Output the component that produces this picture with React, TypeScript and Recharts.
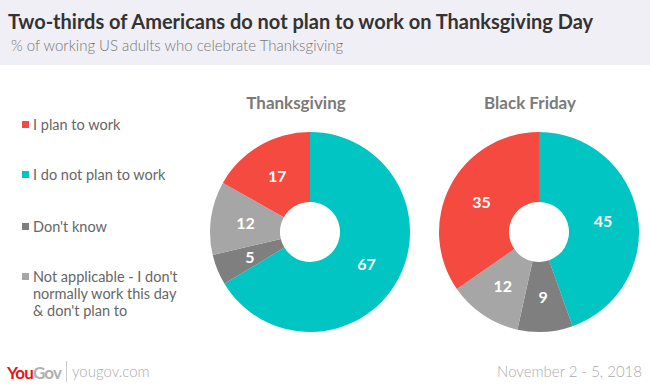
import { PieChart, Pie, Cell } from 'recharts';

// order in the pies (clockwise from 12 o'clock)
const categories = ['I do not plan to work', "Don't know", "Not applicable - I don't normally work this day & don't plan to", 'I plan to work'];
const thanksgivingValues = [67, 5, 12, 17];
const blackFridayValues = [45, 9, 12, 35];
const sliceColors = ['#00c5c2', '#7f7f7f', '#a6a6a6', '#f44a40'];

// legend order (top to bottom)
const legendItems = [
  { label: ['I plan to work'], color: '#f44a40', y: 116 },
  { label: ['I do not plan to work'], color: '#00c5c2', y: 166 },
  { label: ["Don't know"], color: '#7f7f7f', y: 218 },
  { label: ["Not applicable - I don't", 'normally work this day', "& don't plan to"], color: '#a6a6a6', y: 268 },
];

const FONT = 'Lato, "Open Sans", sans-serif';
const RADIAN = Math.PI / 180;

const toRows = (values: number[]) => categories.map((name, i) => ({ name, value: values[i] }));

const renderLabel = (props: any) => {
  const { cx, cy, midAngle, innerRadius, outerRadius, value } = props;
  const r = (innerRadius + outerRadius) / 2;
  const x = cx + r * Math.cos(-midAngle * RADIAN);
  const y = cy + r * Math.sin(-midAngle * RADIAN);
  return (
    <text x={x} y={y} fill="#fff" textAnchor="middle" dominantBaseline="central"
      style={{ fontFamily: FONT, fontWeight: 700, fontSize: 16 }}>
      {value}
    </text>
  );
};

export default function App() {
  const thanks = toRows(thanksgivingValues);
  const friday = toRows(blackFridayValues);

  return (
    <div style={{ position: 'absolute', left: 0, top: 0, width: 650, height: 387, background: '#fff', fontFamily: FONT, overflow: 'hidden' }}>
      <div style={{ position: 'absolute', left: 0, top: 0, width: 650, height: 65, background: '#f0eff5' }} />
      <div style={{ position: 'absolute', left: 8, top: 9, fontSize: 20, fontWeight: 700, color: '#333', whiteSpace: 'nowrap' }}>
        Two-thirds of Americans do not plan to work on Thanksgiving Day
      </div>
      <div style={{ position: 'absolute', left: 11, top: 36, fontSize: 15, fontWeight: 300, color: '#777', whiteSpace: 'nowrap' }}>
        % of working US adults who celebrate Thanksgiving
      </div>

      {legendItems.map((item) => (
        <div key={item.label[0]} style={{ position: 'absolute', left: 22, top: item.y }}>
          <div style={{ position: 'absolute', left: 0, top: 5, width: 7, height: 7, background: item.color }} />
          <div style={{ position: 'absolute', left: 11, top: 0, fontSize: 14.5, lineHeight: '17px', color: '#666', whiteSpace: 'nowrap' }}>
            {item.label.map((l) => <div key={l}>{l}</div>)}
          </div>
        </div>
      ))}

      <div style={{ position: 'absolute', left: 296, top: 92, transform: 'translateX(-50%)', fontSize: 17, fontWeight: 700, color: '#7a7a7a' }}>
        Thanksgiving
      </div>
      <div style={{ position: 'absolute', left: 530, top: 92, transform: 'translateX(-50%)', fontSize: 17, fontWeight: 700, color: '#7a7a7a', whiteSpace: 'nowrap' }}>
        Black Friday
      </div>

      <div style={{ position: 'absolute', left: 0, top: 0 }}>
        <PieChart width={650} height={387} margin={{ top: 0, right: 0, bottom: 0, left: 0 }}>
          <Pie data={thanks} dataKey="value" nameKey="name" cx={310} cy={232} innerRadius={30} outerRadius={100}
            startAngle={90} endAngle={-270} stroke="none" label={renderLabel} labelLine={false} isAnimationActive={false}>
            {thanks.map((d, i) => <Cell key={d.name} fill={sliceColors[i]} />)}
          </Pie>
          <Pie data={friday} dataKey="value" nameKey="name" cx={539} cy={232} innerRadius={30} outerRadius={100}
            startAngle={90} endAngle={-270} stroke="none" label={renderLabel} labelLine={false} isAnimationActive={false}>
            {friday.map((d, i) => <Cell key={d.name} fill={sliceColors[i]} />)}
          </Pie>
        </PieChart>
      </div>

      <div style={{ position: 'absolute', left: 7, top: 362, fontSize: 17, fontWeight: 700, letterSpacing: -0.8, whiteSpace: 'nowrap' }}>
        <span style={{ color: '#e8141a' }}>You</span><span style={{ color: '#b0b0b0' }}>Gov</span>
      </div>
      <div style={{ position: 'absolute', left: 66, top: 361, width: 1, height: 21, background: '#c8c8c8' }} />
      <div style={{ position: 'absolute', left: 72, top: 362, fontSize: 15, fontWeight: 300, color: '#aaa', whiteSpace: 'nowrap' }}>
        yougov.com
      </div>
      <div style={{ position: 'absolute', right: 8, top: 362, fontSize: 15, fontWeight: 300, color: '#aaa', whiteSpace: 'nowrap' }}>
        November 2 - 5, 2018
      </div>
    </div>
  );
}
